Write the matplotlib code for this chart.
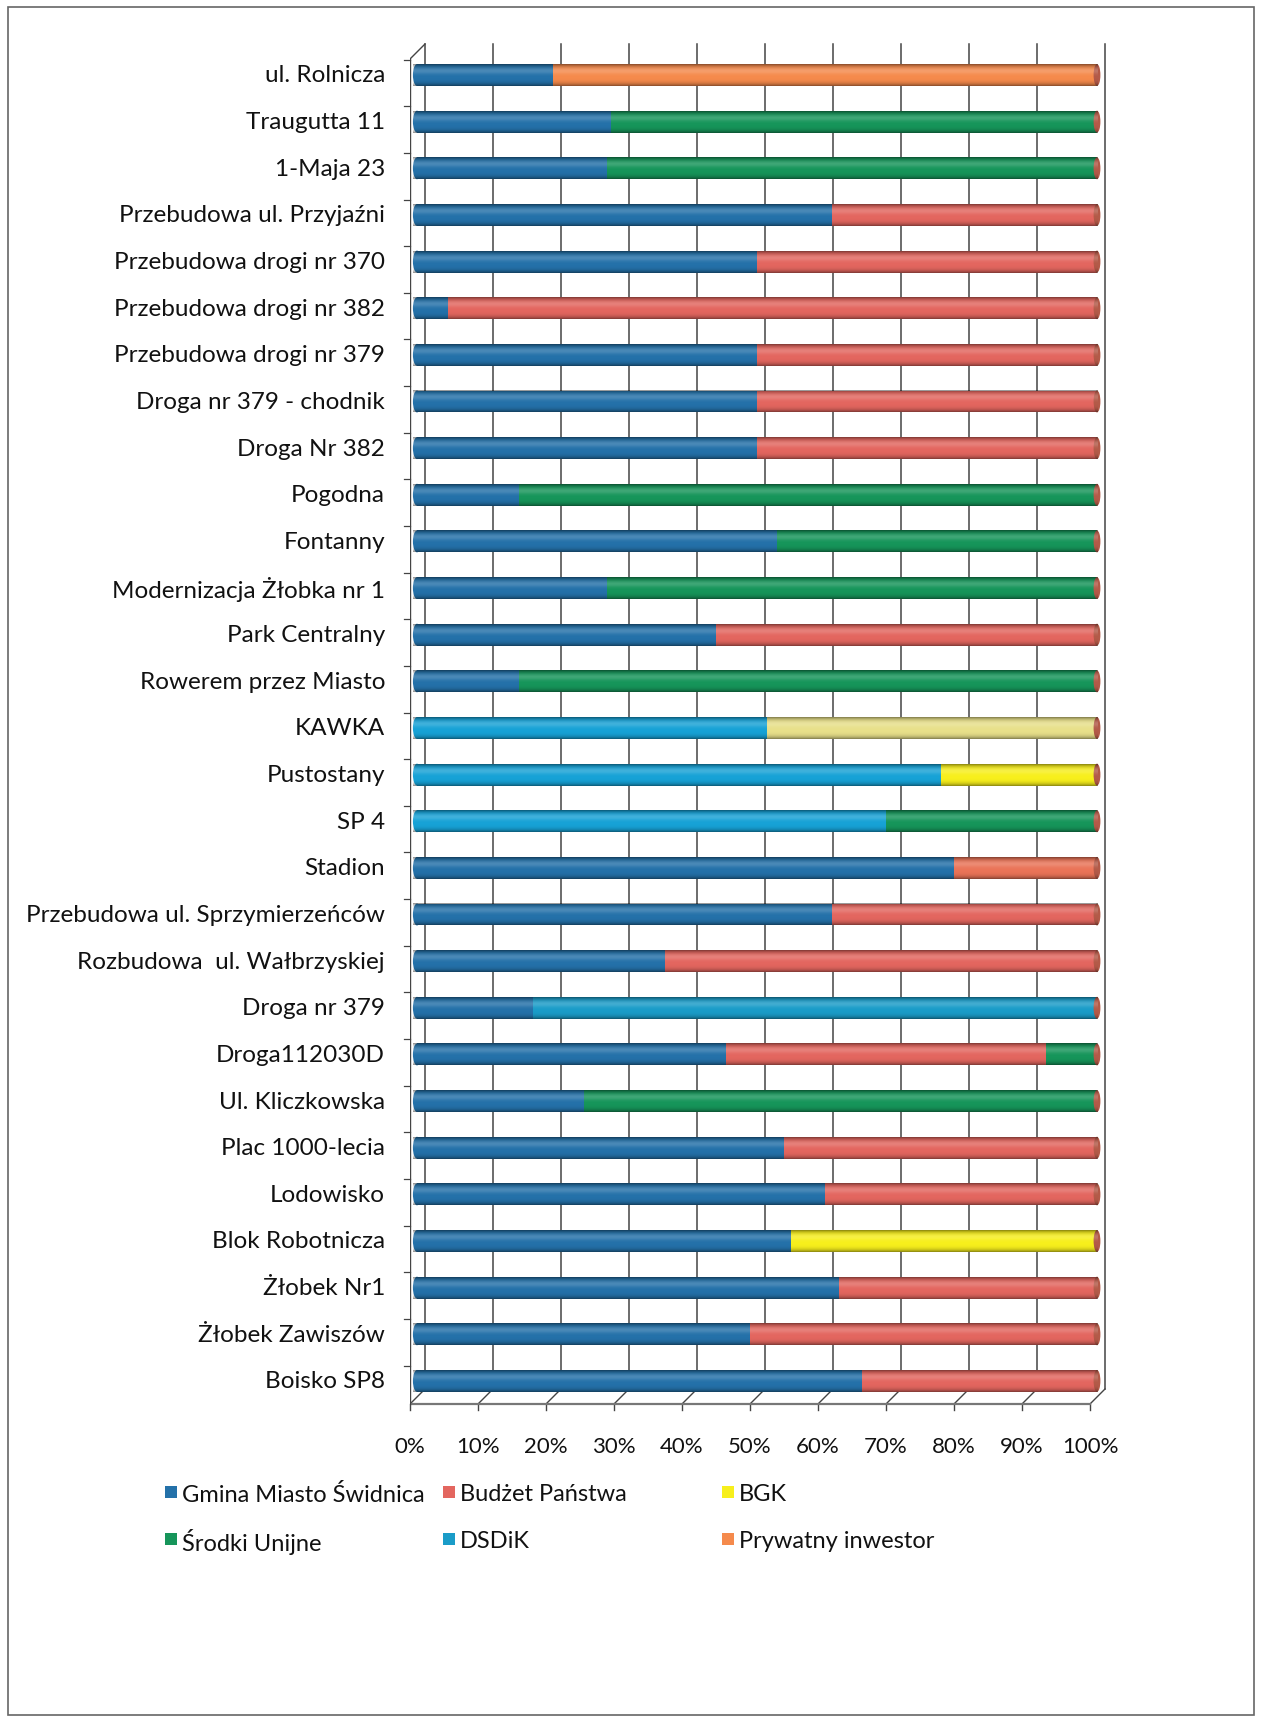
import numpy as np
import matplotlib.pyplot as plt
from matplotlib.patches import Ellipse, Rectangle

plt.rcParams['font.family'] = ['Lato', 'DejaVu Sans']

# dane (od góry do dołu)
categories = ['ul. Rolnicza', 'Traugutta 11', '1-Maja 23', 'Przebudowa ul. Przyjaźni',
              'Przebudowa drogi nr 370', 'Przebudowa drogi nr 382', 'Przebudowa drogi nr 379',
              'Droga nr 379 - chodnik', 'Droga Nr 382', 'Pogodna', 'Fontanny',
              'Modernizacja Żłobka nr 1', 'Park Centralny', 'Rowerem przez Miasto', 'KAWKA',
              'Pustostany', 'SP 4', 'Stadion', 'Przebudowa ul. Sprzymierzeńców',
              'Rozbudowa  ul. Wałbrzyskiej', 'Droga nr 379', 'Droga112030D', 'Ul. Kliczkowska',
              'Plac 1000-lecia', 'Lodowisko', 'Blok Robotnicza', 'Żłobek Nr1', 'Żłobek Zawiszów',
              'Boisko SP8']

gmina =    [20, 28.5, 28, 61, 50, 4.5, 50, 50, 50, 15, 53, 28, 44, 15, 0, 0, 0, 79, 61, 36.5,
            17, 45.5, 24.5, 54, 60, 55, 62, 49, 65.5]
dsdik =    [0, 0, 0, 0, 0, 0, 0, 0, 0, 0, 0, 0, 0, 0, 51.5, 77, 69, 0, 0, 0,
            83, 0, 0, 0, 0, 0, 0, 0, 0]
budzet =   [0, 0, 0, 39, 50, 95.5, 50, 50, 50, 0, 0, 0, 56, 0, 0, 0, 0, 21, 39, 63.5,
            0, 47, 0, 46, 40, 0, 38, 51, 34.5]
bgk =      [0, 0, 0, 0, 0, 0, 0, 0, 0, 0, 0, 0, 0, 0, 48.5, 23, 0, 0, 0, 0,
            0, 0, 0, 0, 0, 45, 0, 0, 0]
srodki =   [0, 71.5, 72, 0, 0, 0, 0, 0, 0, 85, 47, 72, 0, 85, 0, 0, 31, 0, 0, 0,
            0, 7.5, 75.5, 0, 0, 0, 0, 0, 0]
prywatny = [80, 0, 0, 0, 0, 0, 0, 0, 0, 0, 0, 0, 0, 0, 0, 0, 0, 0, 0, 0,
            0, 0, 0, 0, 0, 0, 0, 0, 0]

series = [gmina, dsdik, budzet, bgk, srodki, prywatny]
colors = ['#2471a9', '#17a2d6', '#e3665f', '#f7ef1c', '#16955a', '#f58a4c']
legend_names = ['Gmina Miasto Świdnica', 'Budżet Państwa', 'BGK',
                'Środki Unijne', 'DSDiK', 'Prywatny inwestor']
legend_colors = ['#2471a9', '#e3665f', '#f7ef1c', '#16955a', '#1a9cc8', '#f58a4c']
# kolory pojedynczych odcinków innych niż w legendzie (skan)
overrides = {('KAWKA', 3): '#e8e08a', ('Stadion', 2): '#ea7458',
             ('Droga nr 379', 1): '#1a9cc8'}

fig = plt.figure(figsize=(12.62, 17.24), dpi=100)
W, H = 1262, 1724
x0px, x1px, y0px, y1px = 410, 1115, 40, 1412
ax = fig.add_axes([x0px / W, 1 - y1px / H, (x1px - x0px) / W, (y1px - y0px) / H])
pxu = 6.8        # px na 1%
pyu = 46.64      # px na kategorię
xlim = (0, (x1px - x0px) / pxu)
ylim = ((y1px - 76) / pyu, -(76 - y0px) / pyu)
ax.set_xlim(*xlim)
ax.set_ylim(*ylim)
ax.axis('off')

dx = 15 / pxu
dy = 15 / pyu
y_front = (1405 - 76) / pyu
y_back = y_front - dy
y_top = (45 - 76) / pyu

# tylna siatka i podłoga
for v in range(0, 101, 10):
    ax.plot([v + dx, v + dx], [y_back, y_top], color='#444444', lw=1.1, zorder=1)
    ax.plot([v, v + dx], [y_front, y_back], color='#444444', lw=1.0, zorder=1)
    ax.plot([v, v], [y_front, y_front + 6 / pyu], color='#444444', lw=1.0, zorder=1, clip_on=False)
ax.plot([0, 100], [y_front, y_front], color='#777777', lw=1.6, zorder=1)
ax.plot([0, 0], [y_front, y_top + dy], color='#444444', lw=1.0, zorder=1)
ax.plot([0, dx], [y_top + dy, y_top], color='#444444', lw=1.0, zorder=1)
for i in range(len(categories)):
    ax.plot([-6 / pxu, 0], [i - 0.5 + 0.17, i - 0.5 + 0.17], color='#444444', lw=0.9,
            clip_on=False, zorder=1)

# słupki
h = 0.47
off = 7 / pxu
grad_t = np.linspace(-1, 1, 60)
shade = np.zeros((60, 1, 4))
shade[:, 0, 3] = 0.45 * np.abs(grad_t) ** 4
light = np.ones((60, 1, 4))
light[:, 0, 3] = 0.18 * np.exp(-((grad_t + 0.4) / 0.3) ** 2)
for i, cat in enumerate(categories):
    left = off
    first = None
    for k, vals in enumerate(series):
        w = vals[i]
        if w <= 0:
            continue
        c = overrides.get((cat, k), colors[k])
        if first is None:
            first = c
        ax.barh(i, w, left=left, height=h, color=c, edgecolor='none', zorder=3)
        left += w
    ax.add_patch(Ellipse((off, i), 1.2, h, facecolor=first, edgecolor='none', zorder=3))
    ax.add_patch(Ellipse((left, i), 1.0, h, facecolor='#b35a48', edgecolor='none', zorder=4))
    ext = (off - 0.6, left, i + h / 2, i - h / 2)
    ax.imshow(shade, extent=ext, aspect='auto', zorder=5, interpolation='bilinear')
    ax.imshow(light, extent=ext, aspect='auto', zorder=5, interpolation='bilinear')
    ax.text(-25 / pxu, i, cat, ha='right', va='center', fontsize=17.5, color='#111111')
ax.set_xlim(*xlim)
ax.set_ylim(*ylim)

for v in range(0, 101, 10):
    ax.text(v, (1447 - 76) / pyu, f'{v}%', ha='center', va='center', fontsize=16,
            color='#111111')

# legenda i ramka
lax = fig.add_axes([0, 0, 1, 1])
lax.set_xlim(0, W)
lax.set_ylim(H, 0)
lax.axis('off')
lax.add_patch(Rectangle((8, 8), W - 16, H - 16, fill=False, edgecolor='#666666', lw=1.2))
leg_x = [165, 443, 722]
leg_y = [1493, 1540]
for j, (name, c) in enumerate(zip(legend_names, legend_colors)):
    lx = leg_x[j % 3]
    ly = leg_y[j // 3]
    lax.add_patch(Rectangle((lx, ly - 6), 12, 12, facecolor=c, edgecolor='none'))
    lax.text(lx + 17, ly, name, ha='left', va='center_baseline', fontsize=17, color='#111111')

fig.savefig('out.png', dpi=100)
